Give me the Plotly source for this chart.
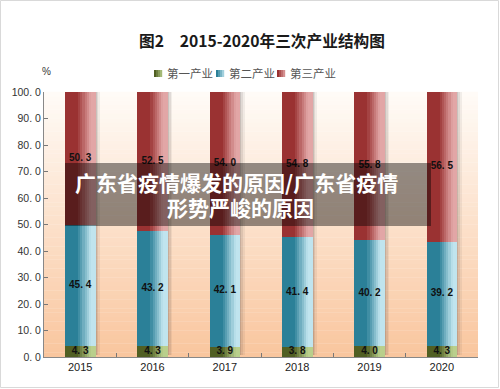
import plotly.graph_objects as go

years = ["2015", "2016", "2017", "2018", "2019", "2020"]
primary = [4.3, 4.3, 3.9, 3.8, 4.0, 4.3]
secondary = [45.4, 43.2, 42.1, 41.4, 40.2, 39.2]
tertiary = [50.3, 52.5, 54.0, 54.8, 55.8, 56.5]
series_names = ["第一产业", "第二产业", "第三产业"]
y_ticks = [0, 10, 20, 30, 40, 50, 60, 70, 80, 90, 100]

title_text = "图2　2015-2020年三次产业结构图"
overlay_line1 = "广东省疫情爆发的原因/广东省疫情"
overlay_line2 = "形势严峻的原因"

# gradient colours (dark left -> light right)
dark = [(80, 95, 35), (43, 128, 152), (154, 50, 50)]
light = [(185, 207, 140), (192, 228, 238), (226, 166, 166)]

W, H = 500, 389
L, R, T, B = 44, 478, 92, 357


def px2x(px):
    return (px - L) / (R - L)


def py2y(py):
    return (B - py) / (B - T)


def mix(c1, c2, t):
    return "rgb(%d,%d,%d)" % tuple(round(a + (b - a) * t) for a, b in zip(c1, c2))


fig = go.Figure()

bar_w = 0.42
n_strips = 14
sw = bar_w / n_strips

values = [primary, secondary, tertiary]
bases = [
    [0] * len(years),
    primary,
    [p + s for p, s in zip(primary, secondary)],
]

# shadow to the right of each bar
totals = [p + s + t for p, s, t in zip(primary, secondary, tertiary)]
for k, op in enumerate([0.28, 0.16, 0.07]):
    fig.add_trace(go.Bar(
        x=years, y=[v - 0.8 for v in totals], base=[0.8] * len(years),
        width=0.022, offset=bar_w / 2 + k * 0.022 - 0.004,
        marker=dict(color="rgba(60,50,50,%.2f)" % op, line=dict(width=0)),
        showlegend=False, hoverinfo="skip"))

for si in range(3):
    for k in range(n_strips):
        t = (k + 0.5) / n_strips
        tt = 0.0 if t < 0.4 else min(1.0, (t - 0.4) / 0.45)
        col = mix(dark[si], light[si], tt)
        fig.add_trace(go.Bar(
            x=years, y=values[si], base=bases[si],
            width=sw * 1.08, offset=-bar_w / 2 + k * sw,
            marker=dict(color=col, line=dict(width=0)),
            showlegend=False, hoverinfo="skip"))

# data labels
for si in range(3):
    fig.add_trace(go.Scatter(
        x=years, y=[b + v / 2 for b, v in zip(bases[si], values[si])],
        mode="text", text=["<b>" + f"{v:.1f}".replace(".", ". ") + "</b>" for v in values[si]],
        textfont=dict(size=10, color="#111111", family="Liberation Sans"),
        showlegend=False, hoverinfo="skip"))

shapes = []
# plot background gradient
top_c, bot_c = (255, 251, 247), (249, 198, 158)
n_bg = 60
for i in range(n_bg):
    t = i / (n_bg - 1)
    shapes.append(dict(type="rect", xref="paper", yref="paper",
                       x0=0, x1=1, y0=1 - (i + 1) / n_bg, y1=1 - i / n_bg + 0.001,
                       fillcolor=mix(top_c, bot_c, t), line=dict(width=0), layer="below"))

# outer border
shapes.append(dict(type="rect", xref="paper", yref="paper",
                   x0=px2x(0.5), x1=px2x(W - 1.5), y0=py2y(H - 1.5), y1=py2y(0.5),
                   line=dict(color="#d9d9d9", width=1), fillcolor="rgba(0,0,0,0)", layer="above"))

# watermark band
shapes.append(dict(type="rect", xref="paper", yref="paper",
                   x0=px2x(65), x1=px2x(431), y0=py2y(226), y1=py2y(163),
                   fillcolor="rgba(0,0,0,0.42)", line=dict(width=0), layer="above"))

annotations = [
    dict(text="<b>" + title_text + "</b>", xref="paper", yref="paper",
         x=px2x(262), y=py2y(40), showarrow=False, xanchor="center", yanchor="middle",
         font=dict(size=15.7, color="#1a1a1a", family="Noto Sans CJK SC")),
    dict(text="%", xref="paper", yref="paper", x=px2x(46), y=py2y(71), showarrow=False,
         xanchor="center", yanchor="middle", font=dict(size=10, color="#333", family="Liberation Sans")),
    dict(text="<b>" + overlay_line1 + "</b>", xref="paper", yref="paper",
         x=px2x(236), y=py2y(182), showarrow=False, xanchor="center", yanchor="middle",
         font=dict(size=21, color="white", family="Noto Sans CJK SC")),
    dict(text="<b>" + overlay_line2 + "</b>", xref="paper", yref="paper",
         x=px2x(240), y=py2y(207), showarrow=False, xanchor="center", yanchor="middle",
         font=dict(size=21, color="white", family="Noto Sans CJK SC")),
]

# manual legend
leg_x = [154, 216, 277]
for si in range(3):
    for k in range(4):
        shapes.append(dict(type="rect", xref="paper", yref="paper",
                           x0=px2x(leg_x[si] + k * 2), x1=px2x(leg_x[si] + (k + 1) * 2 + 0.2),
                           y0=py2y(77), y1=py2y(70),
                           fillcolor=mix(dark[si], light[si], k / 3 * 0.8), line=dict(width=0), layer="above"))
    annotations.append(dict(text=series_names[si], xref="paper", yref="paper",
                            x=px2x(leg_x[si] + 11), y=py2y(73.5), showarrow=False,
                            xanchor="left", yanchor="middle",
                            font=dict(size=11.5, color="#555", family="Noto Sans CJK SC")))

fig.update_layout(
    width=W, height=H,
    margin=dict(l=L, r=W - R, t=T, b=H - B, pad=0),
    paper_bgcolor="white", plot_bgcolor="white",
    barmode="overlay", bargap=0,
    showlegend=False,
    shapes=shapes, annotations=annotations,
    xaxis=dict(type="category", tickson="boundaries", ticks="inside", ticklen=4,
               tickcolor="#777", showline=True, linecolor="#888", linewidth=1,
               showgrid=False, tickfont=dict(size=11, color="#222", family="Liberation Sans"),
               range=[-0.5, 5.5]),
    yaxis=dict(range=[0, 100], tickvals=y_ticks,
               ticktext=[f"{v:.1f}".replace(".", ". ") for v in y_ticks],
               ticks="inside", ticklen=4, tickcolor="#777", showline=True,
               linecolor="#888", linewidth=1, showgrid=False, zeroline=False,
               tickfont=dict(size=10.5, color="#333", family="Liberation Sans")),
)

fig.write_html("out.html", config={"displayModeBar": False},
               post_script="document.body.style.margin='0';")
